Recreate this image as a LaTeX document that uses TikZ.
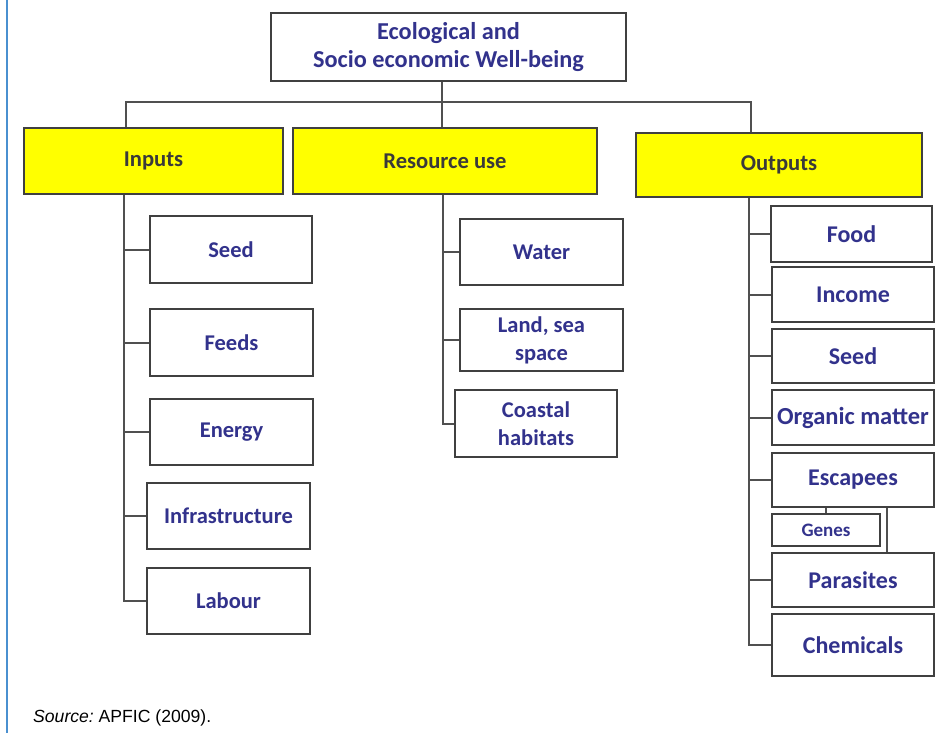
\documentclass[tikz,border=0pt]{standalone}
\usepackage{fontspec}
\setmainfont{Carlito}
\newfontfamily\srcfont{Liberation Sans}
\definecolor{boxtext}{RGB}{50,50,140}
\definecolor{headtext}{RGB}{58,58,58}
\definecolor{boxline}{RGB}{64,64,64}
\definecolor{connline}{RGB}{80,80,80}
\definecolor{sideblue}{RGB}{74,144,208}
\definecolor{headyellow}{RGB}{255,255,0}
\tikzset{
  x=1pt, y=-1pt,
  base/.style={draw=boxline, line width=2.2pt, rectangle, inner sep=0pt, align=center, font=\bfseries},
  headbox/.style={base, fill=headyellow, text=headtext, font=\bfseries\fontsize{22.6}{28}\selectfont},
  itembox/.style={base, fill=white, text=boxtext, font=\bfseries\fontsize{22.5}{28}\selectfont},
  outbox/.style={base, fill=white, text=boxtext, font=\bfseries\fontsize{24}{28}\selectfont},
  conn/.style={draw=connline, line width=2pt},
}
\begin{document}
\begin{tikzpicture}
\fill[white] (0,0) rectangle (947,733);
\useasboundingbox (0,0) rectangle (947,733);
\draw[sideblue, line width=2.5pt] (7,0) -- (7,733);

% top
\node[base, fill=white, text=boxtext, font=\bfseries\fontsize{24.3}{28.5}\selectfont,
      minimum width=355pt, minimum height=68pt] (top) at (448.5,47) {Ecological and\\Socio economic Well-being};

% headings
\node[headbox, minimum width=259pt, minimum height=66pt] (inputs) at (153.5,161) {Inputs};
\node[headbox, minimum width=304pt, minimum height=66pt] (resuse) at (445,161) {Resource use};
\node[headbox, minimum width=286pt, minimum height=64pt] (outputs) at (779,165) {Outputs};

% inputs
\node[itembox, minimum width=162pt, minimum height=67pt] (seedA) at (231,249.5) {Seed};
\node[itembox, minimum width=163pt, minimum height=67pt] (feeds) at (231.5,342.5) {Feeds};
\node[itembox, minimum width=163pt, minimum height=66pt] (energy) at (231.5,432) {Energy};
\node[itembox, minimum width=163pt, minimum height=66pt] (infra) at (228.5,516) {Infrastructure};
\node[itembox, minimum width=163pt, minimum height=66pt] (labour) at (228.5,601) {Labour};

% resource use
\node[itembox, minimum width=163pt, minimum height=66pt] (water) at (541.5,252) {Water};
\node[itembox, minimum width=163pt, minimum height=62pt] (land) at (541.5,340) {Land, sea\\space};
\node[itembox, minimum width=162pt, minimum height=67pt] (coastal) at (536,423.5) {Coastal\\habitats};

% outputs
\node[outbox, minimum width=161pt, minimum height=56pt] (food) at (851.5,234) {Food};
\node[outbox, minimum width=162pt, minimum height=55pt] (income) at (853,294.5) {Income};
\node[outbox, minimum width=162pt, minimum height=54pt] (seedB) at (853,356) {Seed};
\node[outbox, minimum width=162pt, minimum height=55pt, font=\bfseries\fontsize{24.5}{28}\selectfont] (organic) at (853,417.5) {Organic matter};
\node[outbox, minimum width=162pt, minimum height=54pt] (escapees) at (853,480) {Escapees};
\node[outbox, minimum width=108pt, minimum height=32pt, font=\bfseries\fontsize{19}{22}\selectfont] (genes) at (826,530) {Genes};
\node[outbox, minimum width=162pt, minimum height=54pt] (parasites) at (853,580) {Parasites};
\node[outbox, minimum width=162pt, minimum height=62pt] (chemicals) at (853,645) {Chemicals};

% source
\node[anchor=west, inner sep=0pt, text=black, font=\srcfont\fontsize{17.6}{20}\selectfont] (src) at (33,718) {{\itshape Source:}\ APFIC (2009).};

% top-level connectors
\coordinate (bL) at (126,102);
\coordinate (bM) at (442,102);
\coordinate (bR) at (751,102);
\draw[conn] (inputs.north -| bL) -- (bL) -- (bR) -- (outputs.north -| bR);
\draw[conn] (top.south -| bM) -- (resuse.north -| bM);

% inputs trunk
\coordinate (iT) at (124,0);
\draw[conn] (inputs.south -| iT) |- (labour.west);
\foreach \n in {seedA,feeds,energy,infra} \draw[conn] (\n.west -| iT) -- (\n.west);

% resource trunk
\coordinate (rT) at (443,0);
\draw[conn] (resuse.south -| rT) |- (coastal.west);
\foreach \n in {water,land} \draw[conn] (\n.west -| rT) -- (\n.west);

% outputs trunk
\coordinate (oT) at (749,0);
\draw[conn] (outputs.south -| oT) |- (chemicals.west);
\foreach \n in {food,income,seedB,organic,escapees,parasites} \draw[conn] (\n.west -| oT) -- (\n.west);

% genes links
\coordinate (gR) at (887,0);
\draw[conn] (genes.north) -- (genes.north |- escapees.south);
\draw[conn] (escapees.south -| gR) -- (parasites.north -| gR);
\end{tikzpicture}
\end{document}
